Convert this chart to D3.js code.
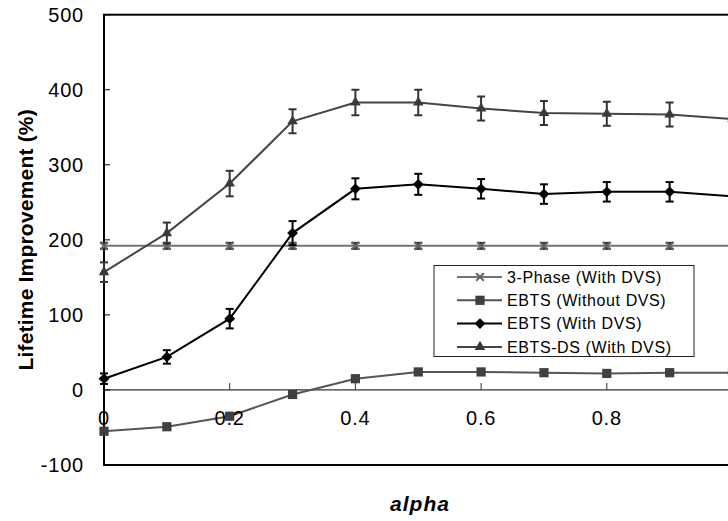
<!DOCTYPE html>
<html>
<head>
<meta charset="utf-8">
<script src="https://cdn.jsdelivr.net/npm/d3@7"></script>
<style>
  html, body { margin: 0; padding: 0; background: #fff; }
  svg { display: block; font-family: "Liberation Sans", Arial, sans-serif; }
</style>
</head>
<body>
<svg id="chart" width="728" height="521"></svg>
<script>
// alpha values along the x axis
const alphas = [0, 0.1, 0.2, 0.3, 0.4, 0.5, 0.6, 0.7, 0.8, 0.9, 1.0];

// Lifetime improvement (%) per scheme
const threePhase    = [192, 192, 192, 192, 192, 192, 192, 192, 192, 192, 192];
const threePhaseErr = [4, 4, 4, 4, 4, 4, 4, 4, 4, 4, 4];
const ebtsNoDvs     = [-55, -49, -35, -6, 15, 24, 24, 23, 22, 23, 23];
const ebtsDvs       = [15, 44, 95, 209, 268, 274, 268, 261, 264, 264, 258];
const ebtsDvsErr    = [7, 9, 13, 16, 14, 14, 13, 13, 13, 13, 13];
const ebtsDs        = [157, 209, 275, 358, 383, 383, 375, 369, 368, 367, 361];
const ebtsDsErr     = [13, 14, 17, 16, 17, 17, 16, 16, 16, 16, 16];

const xTicks = [0, 0.2, 0.4, 0.6, 0.8];
const yTicks = [-100, 0, 100, 200, 300, 400, 500];

const svg = d3.select("#chart");
const x = d3.scaleLinear().domain([0, 1]).range([104, 732.5]);
const y = d3.scaleLinear().domain([-100, 500]).range([465, 14.7]);

const series = [
  { name: "3-Phase (With DVS)",   values: threePhase, err: threePhaseErr, marker: "x",       line: "#737373", fill: "#666", width: 2 },
  { name: "EBTS (Without DVS)",   values: ebtsNoDvs,  err: null,          marker: "square",  line: "#555",    fill: "#404040", width: 2 },
  { name: "EBTS (With DVS)",      values: ebtsDvs,    err: ebtsDvsErr,    marker: "diamond", line: "#000",    fill: "#000", width: 2 },
  { name: "EBTS-DS (With DVS)",   values: ebtsDs,     err: ebtsDsErr,     marker: "triangle",line: "#444",    fill: "#3a3a3a", width: 2 }
];

// zero line acting as the category axis
svg.append("line")
  .attr("x1", x(0)).attr("x2", 740)
  .attr("y1", y(0)).attr("y2", y(0))
  .attr("stroke", "#333").attr("stroke-width", 1.2);

// x ticks pointing up from the zero line
svg.selectAll(".xtick").data(xTicks.concat([1])).enter().append("line")
  .attr("x1", d => x(d)).attr("x2", d => x(d))
  .attr("y1", y(0)).attr("y2", y(0) - 7)
  .attr("stroke", "#333").attr("stroke-width", 1);

// y ticks pointing inward
svg.selectAll(".ytick").data(yTicks).enter().append("line")
  .attr("x1", x(0)).attr("x2", x(0) + 6)
  .attr("y1", d => y(d)).attr("y2", d => y(d))
  .attr("stroke", "#000").attr("stroke-width", 1);

// plot frame
svg.append("rect")
  .attr("x", x(0)).attr("y", y(500))
  .attr("width", 740 - x(0)).attr("height", y(-100) - y(500))
  .attr("fill", "none").attr("stroke", "#000").attr("stroke-width", 2);

const symbolFor = m => ({
  square: d3.symbolSquare, diamond: d3.symbolDiamond2,
  triangle: d3.symbolTriangle2, x: d3.symbolTimes
})[m];

function drawMarker(g, s, cx, cy) {
  if (s.marker === "x") {
    g.append("path")
      .attr("d", d3.symbol(d3.symbolTimes, 40)())
      .attr("transform", `translate(${cx},${cy})`)
      .attr("fill", "none").attr("stroke", s.fill).attr("stroke-width", 2);
  } else {
    const size = s.marker === "square" ? 85 : s.marker === "diamond" ? 75 : 80;
    g.append("path")
      .attr("d", d3.symbol(symbolFor(s.marker), size)())
      .attr("transform", `translate(${cx},${cy})`)
      .attr("fill", s.fill);
  }
}

const line = d3.line().x((d, i) => x(alphas[i])).y(d => y(d));

series.forEach(s => {
  const g = svg.append("g");
  g.append("path")
    .attr("d", line(s.values))
    .attr("fill", "none").attr("stroke", s.line).attr("stroke-width", s.width);
  if (s.err) {
    s.values.forEach((v, i) => {
      const cx = x(alphas[i]), top = y(v + s.err[i]), bot = y(v - s.err[i]);
      const col = s.marker === "diamond" ? "#000" : "#333";
      g.append("line").attr("x1", cx).attr("x2", cx).attr("y1", top).attr("y2", bot)
        .attr("stroke", col).attr("stroke-width", 2);
      [top, bot].forEach(yy => g.append("line")
        .attr("x1", cx - 4).attr("x2", cx + 4).attr("y1", yy).attr("y2", yy)
        .attr("stroke", col).attr("stroke-width", 2));
    });
  }
  s.values.forEach((v, i) => drawMarker(g, s, x(alphas[i]), y(v)));
});

// tick labels
svg.selectAll(".xlab").data(xTicks).enter().append("text")
  .attr("x", d => x(d)).attr("y", y(0) + 35)
  .attr("text-anchor", "middle").attr("font-size", 20).attr("letter-spacing", 0.8)
  .attr("fill", "#000")
  .text(d => d3.format("")(d));

svg.selectAll(".ylab").data(yTicks).enter().append("text")
  .attr("x", 84).attr("y", d => y(d)).attr("dy", "0.36em")
  .attr("text-anchor", "end").attr("font-size", 20).attr("letter-spacing", 0.8)
  .attr("fill", "#000")
  .text(d => d);

// axis titles
svg.append("text")
  .attr("transform", `translate(33,${(y(500) + y(-100)) / 2}) rotate(-90)`)
  .attr("text-anchor", "middle").attr("font-size", 21).attr("font-weight", "bold")
  .attr("letter-spacing", 0.2)
  .text("Lifetime Improvement (%)");

svg.append("text")
  .attr("x", 420).attr("y", 511)
  .attr("text-anchor", "middle").attr("font-size", 21)
  .attr("font-weight", "bold").attr("font-style", "italic").attr("letter-spacing", 1)
  .text("alpha");

// legend
const lg = svg.append("g");
lg.append("rect").attr("x", 434).attr("y", 265.5).attr("width", 260).attr("height", 91)
  .attr("fill", "#fff").attr("stroke", "#222").attr("stroke-width", 1);
series.forEach((s, i) => {
  const ly = 277 + i * 23.3;
  lg.append("line").attr("x1", 457).attr("x2", 502).attr("y1", ly).attr("y2", ly)
    .attr("stroke", s.line).attr("stroke-width", 2);
  drawMarker(lg, s, 480, ly);
  lg.append("text").attr("x", 507).attr("y", ly).attr("dy", "0.36em")
    .attr("font-size", 16).attr("letter-spacing", 0.6).attr("fill", "#000").text(s.name);
});
</script>
</body>
</html>
